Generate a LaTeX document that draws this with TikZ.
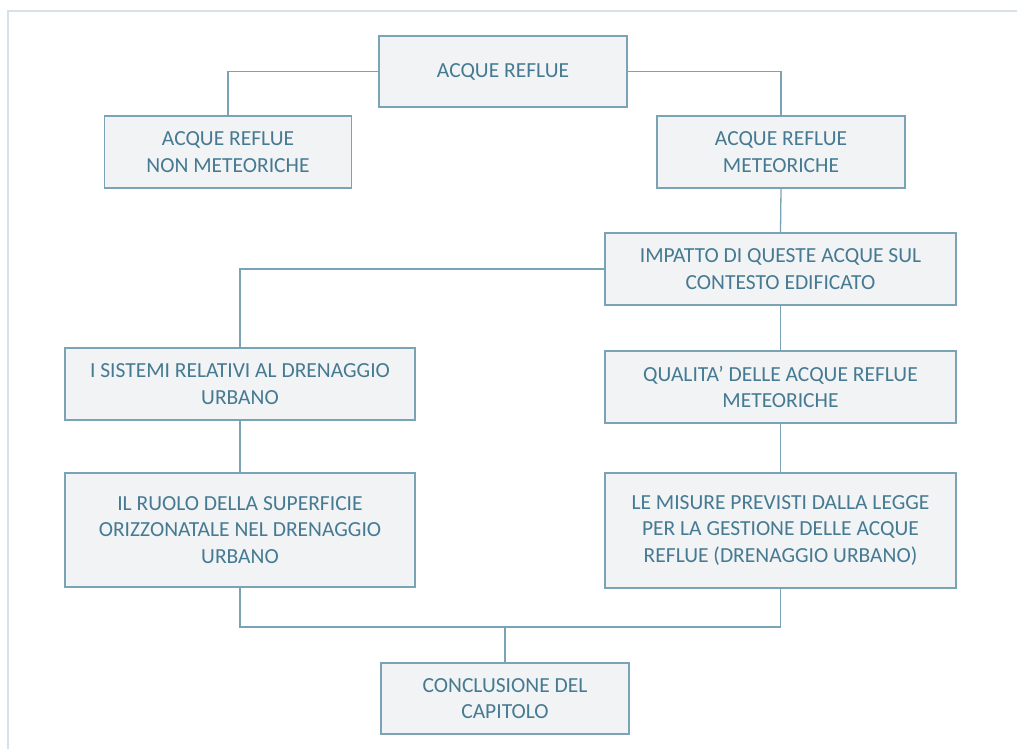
\documentclass[tikz,border=0pt]{standalone}
\usepackage{fontspec}
\setmainfont{Carlito}
\definecolor{boxline}{HTML}{7BA3B6}
\definecolor{boxfill}{HTML}{F1F3F4}
\definecolor{txt}{HTML}{457A92}
\definecolor{frame}{HTML}{D8E1E7}
\begin{document}
\begin{tikzpicture}[x=1pt,y=-1pt,
  box/.style={draw=boxline, line width=1.5pt, fill=boxfill, text=txt, align=center,
    font=\fontsize{21.5}{26.5}\selectfont, inner sep=0pt},
  conn/.style={draw=boxline, line width=1.3pt}]
\useasboundingbox (0,0) rectangle (1017,749);
\clip (0,0) rectangle (1017,749);
\fill[white] (0,0) rectangle (1017,749);
\draw[frame, line width=2.5pt] (8,790) -- (8,11) -- (1060,11);

\node[box, minimum width=248pt, minimum height=71pt] (root) at (503,71.5) {ACQUE REFLUE};
\node[box, minimum width=247pt, minimum height=72pt] (b2) at (228,152) {ACQUE REFLUE\\NON METEORICHE};
\node[box, minimum width=248pt, minimum height=72pt] (b3) at (781,152) {ACQUE REFLUE\\METEORICHE};
\node[box, minimum width=351pt, minimum height=72pt] (b4) at (780.5,269) {IMPATTO DI QUESTE ACQUE SUL\\CONTESTO EDIFICATO};
\node[box, minimum width=350pt, minimum height=72pt] (b5) at (240,384) {I SISTEMI RELATIVI AL DRENAGGIO\\URBANO};
\node[box, minimum width=350pt, minimum height=114pt] (b6) at (240,530) {IL RUOLO DELLA SUPERFICIE\\ORIZZONATALE NEL DRENAGGIO\\URBANO};
\node[box, minimum width=351pt, minimum height=72pt] (b7) at (780.5,387) {QUALITA' DELLE ACQUE REFLUE\\METEORICHE};
\node[box, minimum width=351pt, minimum height=115pt] (b8) at (780.5,530.5) {LE MISURE PREVISTI DALLA LEGGE\\PER LA GESTIONE DELLE ACQUE\\REFLUE (DRENAGGIO URBANO)};
\node[box, minimum width=248pt, minimum height=71pt] (b9) at (505,698.5) {CONCLUSIONE DEL\\CAPITOLO};

\coordinate (j) at (505,627);

\draw[conn] (root.west) -| (b2.north);
\draw[conn] (root.east) -| (b3.north);
\draw[conn] (b3.south) -- (b4.north);
\draw[conn] (b4.west) -| (b5.north);
\draw[conn] (b5.south) -- (b6.north);
\draw[conn] (b4.south) -- (b7.north);
\draw[conn] (b7.south) -- (b8.north);
\draw[conn] (b6.south) |- (j) -| (b8.south);
\draw[conn] (j) -- (b9.north);
\end{tikzpicture}
\end{document}
